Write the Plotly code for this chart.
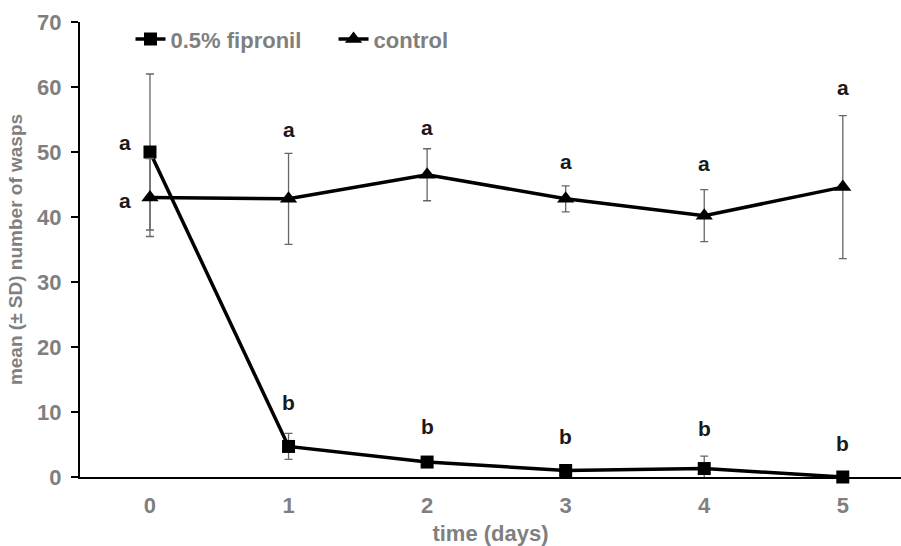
import plotly.graph_objects as go

days = [0, 1, 2, 3, 4, 5]
fipronil_mean = [50.0, 4.7, 2.3, 1.0, 1.3, 0.0]
fipronil_sd = [12.0, 2.0, 0.0, 0.0, 1.9, 0.0]
control_mean = [43.0, 42.8, 46.5, 42.8, 40.2, 44.6]
control_sd = [6.0, 7.0, 4.0, 2.0, 4.0, 11.0]

fip_letters = ["a", "b", "b", "b", "b", "b"]
fip_letter_y = [51.4, 11.4, 7.7, 6.3, 7.5, 5.2]
ctrl_letters = ["a", "a", "a", "a", "a", "a"]
ctrl_letter_y = [42.6, 53.4, 53.8, 48.5, 48.2, 60.0]

FONT = "Liberation Sans, Arial, sans-serif"
GRAY = "#7f7f7f"
FS = 22

fig = go.Figure()
fig.add_trace(go.Scatter(
    x=days, y=fipronil_mean, name="0.5% fipronil", mode="lines+markers",
    line=dict(color="black", width=3.5),
    marker=dict(symbol="square", size=13, color="black"),
    error_y=dict(type="data", array=fipronil_sd, color="#666666", thickness=1.3, width=4),
    cliponaxis=False, legend="legend",
))
fig.add_trace(go.Scatter(
    x=days, y=control_mean, name="control", mode="lines+markers",
    line=dict(color="black", width=3.5),
    marker=dict(symbol="triangle-up", size=15, color="black"),
    error_y=dict(type="data", array=control_sd, color="#666666", thickness=1.3, width=4),
    cliponaxis=False, legend="legend2",
))

annos = []
for i, d in enumerate(days):
    xo = -0.18 if d == 0 else 0
    annos.append(dict(x=d + xo, y=fip_letter_y[i], text=fip_letters[i], showarrow=False,
                      font=dict(family=FONT, size=21, color="#1a1a1a", weight="bold")))
    annos.append(dict(x=d + xo, y=ctrl_letter_y[i], text=ctrl_letters[i], showarrow=False,
                      font=dict(family=FONT, size=21, color="#1a1a1a", weight="bold")))

legfont = dict(family=FONT, size=FS, color=GRAY, weight="bold")

fig.update_layout(
    width=901, height=546,
    margin=dict(l=80, r=0, t=22, b=69),
    plot_bgcolor="white", paper_bgcolor="white",
    font=dict(family=FONT, size=FS, color=GRAY, weight="bold"),
    showlegend=True,
    legend=dict(orientation="h", x=0.0615, y=0.962, xanchor="left", yanchor="middle",
                font=legfont, bgcolor="rgba(0,0,0,0)", itemwidth=30),
    legend2=dict(orientation="h", x=0.3088, y=0.962, xanchor="left", yanchor="middle",
                 font=legfont, bgcolor="rgba(0,0,0,0)", itemwidth=30),
    annotations=annos,
    xaxis=dict(range=[-0.505, 5.42], tickvals=days, ticktext=[str(d) for d in days],
               showline=True, linecolor="black", linewidth=2, showgrid=False, zeroline=False,
               ticks="", ticklabelstandoff=8,
               tickfont=dict(family=FONT, size=FS, color=GRAY, weight="bold"),
               title=dict(text="time (days)", standoff=12,
                          font=dict(family=FONT, size=FS, color=GRAY, weight="bold"))),
    yaxis=dict(range=[0, 70], tickvals=[0, 10, 20, 30, 40, 50, 60, 70],
               showline=True, linecolor="black", linewidth=2, showgrid=False, zeroline=False,
               ticks="outside", ticklen=7, tickwidth=2, tickcolor="black", ticklabelstandoff=5,
               tickfont=dict(family=FONT, size=FS, color=GRAY, weight="bold"),
               title=dict(text="mean (± SD) number of wasps", standoff=9,
                          font=dict(family=FONT, size=19, color=GRAY, weight="bold"))),
)

fig.write_html("out.html")
